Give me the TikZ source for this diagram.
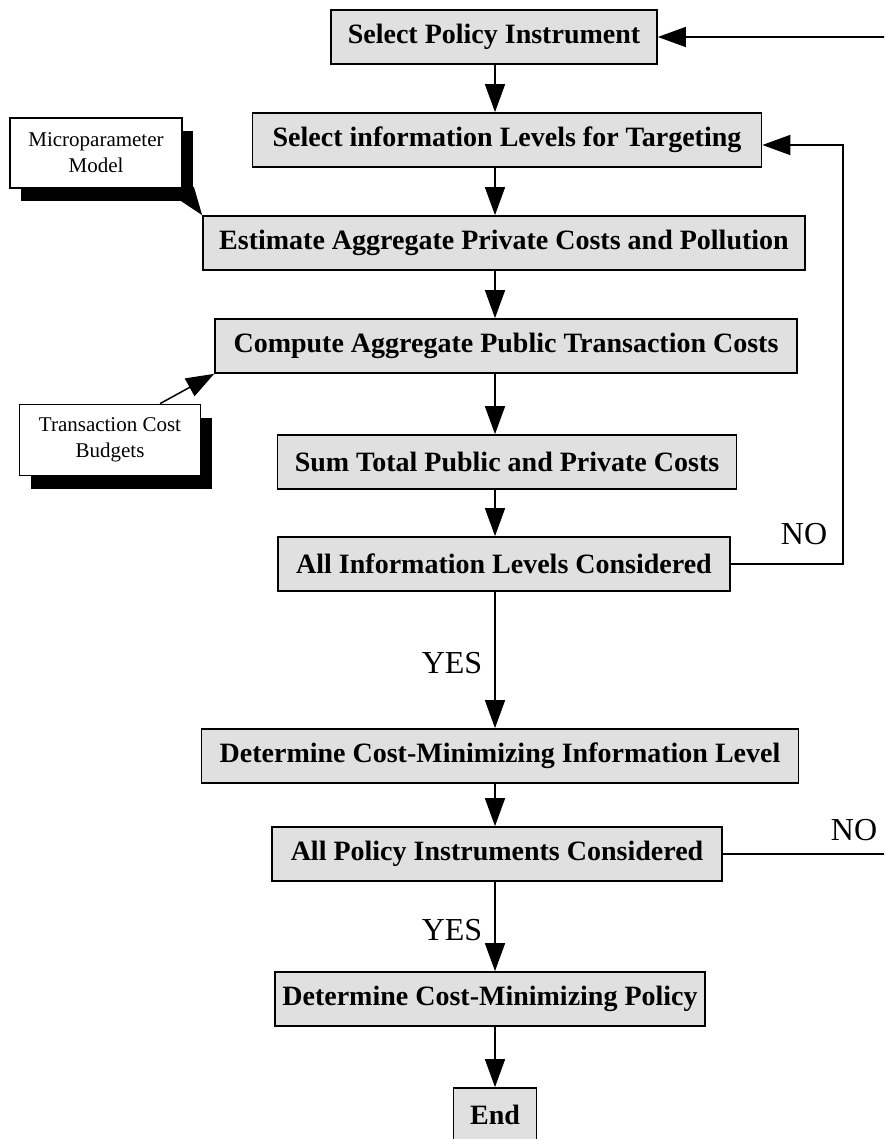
\documentclass[tikz,border=0pt]{standalone}
\usepackage{fontspec}
\setmainfont{Liberation Serif}
\definecolor{mygray}{rgb}{0.88,0.88,0.88}
\usetikzlibrary{arrows.meta,shadows,calc}

\begin{document}
\begin{tikzpicture}[x=1pt,y=-1pt,
        every node/.style={inner sep=0pt},
        stepbox/.style={draw,fill=mygray,line width=1.7pt,minimum height=54pt,
          font=\fontsize{28}{32}\selectfont\bfseries},
        inbox/.style={draw,fill=white,line width=1.7pt,align=center,
          font=\fontsize{21}{26}\selectfont,
          drop shadow={shadow xshift=11pt,shadow yshift=-13pt,fill=black,opacity=1}},
        lbl/.style={font=\fontsize{32}{36}\selectfont},
        arr/.style={line width=1.5pt,-{Triangle[length=28pt,width=20pt]}}
        ]
        \useasboundingbox (0,0) rectangle (884,1139);
        \clip (0,0) rectangle (884,1139);

        % the main steps
        \node[stepbox,minimum width=326pt] (sel) at (494,37) {Select Policy Instrument};
        \node[stepbox,minimum width=509pt] (lev) at (507,140) {Select information Levels for Targeting};
        \node[stepbox,minimum width=602pt] (est) at (504,243) {Estimate Aggregate Private Costs and Pollution};
        \node[stepbox,minimum width=582pt] (cmp) at (506,346) {Compute Aggregate Public Transaction Costs};
        \node[stepbox,minimum width=459pt] (sum) at (507,462) {Sum Total Public and Private Costs};
        \node[stepbox,minimum width=452pt] (ai) at (504,564) {All Information Levels Considered};
        \node[stepbox,minimum width=597pt] (det) at (500,756) {Determine Cost-Minimizing Information Level};
        \node[stepbox,minimum width=450pt] (pol) at (497,854) {All Policy Instruments Considered};
        \node[stepbox,minimum width=430pt] (dcp) at (490,999) {Determine Cost-Minimizing Policy};
        \node[stepbox,minimum width=83pt] (end) at (495,1115) {End};

        % the inputs
        \node[inbox,minimum width=172pt,minimum height=70pt] (micro) at (96,153) {Microparameter\\Model};
        \node[inbox,minimum width=181pt,minimum height=71pt] (tcb) at (110,440) {Transaction Cost\\Budgets};

        % the answers
        \node[lbl] (yes1) at (452,663) {YES};
        \node[lbl] (yes2) at (452,930) {YES};
        \node[lbl] (no1) at (804,534) {NO};
        \node[lbl] (no2) at (854,830) {NO};

        % the edges
        \coordinate (ax) at (495,0);
        \coordinate (r1) at (843,0);
        \coordinate (r2) at (892,0);
        \draw[arr] (sel.south -| ax) -- (lev.north -| ax);
        \draw[arr] (lev.south -| ax) -- (est.north -| ax);
        \draw[arr] (est.south -| ax) -- (cmp.north -| ax);
        \draw[arr] (cmp.south -| ax) -- (sum.north -| ax);
        \draw[arr] (sum.south -| ax) -- (ai.north -| ax);
        \draw[arr] (ai.south -| ax) -- (det.north -| ax);
        \draw[arr] (det.south -| ax) -- (pol.north -| ax);
        \draw[arr] (pol.south -| ax) -- (dcp.north -| ax);
        \draw[arr] (dcp.south -| ax) -- (end.north -| ax);
        \draw[arr] (micro.south east) -- (est.north west);
        \draw[arr] ([xshift=50pt]tcb.north) -- (cmp.south west);
        \draw[arr] (ai.east) -- (ai.east -| r1) |- ([yshift=-5pt]lev.east);
        \draw[arr] (pol.east) -- (pol.east -| r2) |- (sel.east);
\end{tikzpicture}
\end{document}
